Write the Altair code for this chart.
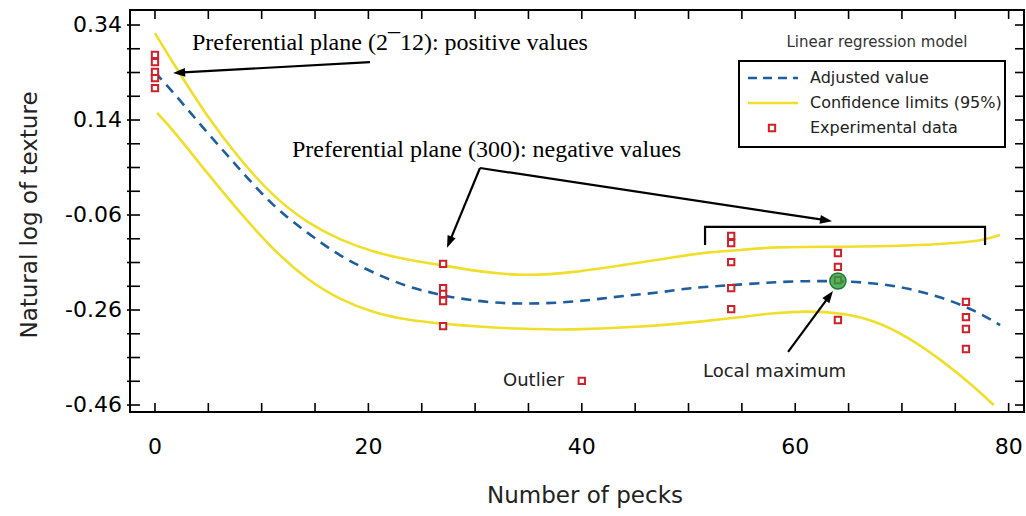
import math
import altair as alt
import pandas as pd

# ---------------- data ----------------
fit_x = [0.0, 1.7, 4.9, 8.0, 11.1, 14.3, 17.4, 20.5, 23.7, 26.8, 27.7, 31.5, 34.6, 37.8, 40.9,
         43.9, 47.1, 50.2, 53.3, 58.0, 61.2, 64.0, 67.4, 70.6, 73.7, 76.8, 79.2]
fit_y = [0.240, 0.199, 0.113, 0.035, -0.043, -0.098, -0.148, -0.182, -0.212, -0.228, -0.233,
         -0.245, -0.247, -0.245, -0.239, -0.230, -0.224, -0.213, -0.209, -0.201, -0.199, -0.199,
         -0.203, -0.214, -0.233, -0.260, -0.292]

upper_x = [0.0, 1.7, 4.9, 8.0, 11.1, 14.3, 17.4, 20.5, 23.7, 26.8, 29.9, 34.6, 39.3, 43.9, 48.6,
           51.8, 54.9, 58.0, 64.3, 70.6, 75.3, 77.7, 79.2]
upper_y = [0.323, 0.260, 0.146, 0.056, -0.022, -0.077, -0.113, -0.138, -0.155, -0.165, -0.178,
           -0.189, -0.181, -0.165, -0.149, -0.138, -0.134, -0.127, -0.127, -0.125, -0.119, -0.113,
           -0.102]

lower_x = [0.2, 1.7, 4.9, 8.0, 11.1, 14.3, 17.4, 20.5, 23.7, 26.8, 33.1, 39.3, 45.5, 51.8, 54.9,
           58.0, 61.2, 64.3, 67.4, 70.6, 73.7, 76.8, 78.6]
lower_y = [0.155, 0.119, 0.028, -0.056, -0.134, -0.197, -0.239, -0.266, -0.281, -0.289, -0.300,
           -0.302, -0.296, -0.283, -0.275, -0.266, -0.262, -0.266, -0.281, -0.317, -0.365, -0.422,
           -0.460]

exp_x = [0, 0, 0, 0, 0, 27, 27, 27, 27, 27, 54, 54, 54, 54, 54, 64, 64, 64, 64, 76, 76, 76, 76, 40]
exp_y = [0.277, 0.262, 0.241, 0.228, 0.207,
         -0.163, -0.214, -0.226, -0.241, -0.294,
         -0.104, -0.119, -0.159, -0.214, -0.258,
         -0.140, -0.169, -0.197, -0.281,
         -0.243, -0.275, -0.300, -0.342,
         -0.409]

max_x = [64]
max_y = [-0.199]

x_tick_values = list(range(0, 81, 5))
x_label_values = [0, 20, 40, 60, 80]
x_labels = ["0", "20", "40", "60", "80"]
y_label_values = [0.34, 0.14, -0.06, -0.26, -0.46]
y_labels = ["0.34", "0.14", "-0.06", "-0.26", "-0.46"]
y_tick_values = [round(-0.46 + 0.05 * i, 2) for i in range(17)]

# annotation arrows (data units): polylines, last point is the arrow tip
arrows = {
    "a1": [(20.15, 0.262), (1.7, 0.239)],
    "a2a": [(30.46, 0.039), (27.37, -0.129)],
    "a2b": [(30.46, 0.039), (63.45, -0.073)],
    "a3": [(59.33, -0.348), (63.54, -0.220)],
}
bracket = [(51.55, -0.123), (51.55, -0.085), (77.79, -0.085), (77.79, -0.123)]

# ---------------- styling ----------------
W, H = 894, 402
XD = [-2.34, 81.44]
YD = [-0.4747, 0.3716]
YEL = "#F0DF2A"
BLUE = "#1F5E9C"
RED = "#D0202A"
SANS = "DejaVu Sans"
SERIF = "Liberation Serif"

xs = alt.Scale(domain=XD, nice=False, zero=False)
ys = alt.Scale(domain=YD, nice=False, zero=False)
kx = W / (XD[1] - XD[0])
ky = H / (YD[1] - YD[0])

# ---------------- frames ----------------
fit_df = pd.DataFrame({"x": fit_x, "y": fit_y})
band_df = pd.concat([
    pd.DataFrame({"x": upper_x, "y": upper_y, "band": "upper"}),
    pd.DataFrame({"x": lower_x, "y": lower_y, "band": "lower"}),
])
exp_df = pd.DataFrame({"x": exp_x, "y": exp_y})
max_df = pd.DataFrame({"x": max_x, "y": max_y})

line_rows, head_rows = [], []
head_len = 12
for key, pts in arrows.items():
    (x0, y0), (x1, y1) = pts[-2], pts[-1]
    dx = (x1 - x0) * kx
    dy = -(y1 - y0) * ky
    L = math.hypot(dx, dy)
    ang = math.degrees(math.atan2(dx, -dy)) % 360
    head_rows.append({"x": x1, "y": y1, "ang": ang})
    sx = x1 - (dx / L) * (head_len - 2) / kx
    sy = y1 + (dy / L) * (head_len - 2) / ky
    new_pts = pts[:-1] + [(sx, sy)]
    for i, (px, py) in enumerate(new_pts):
        line_rows.append({"x": px, "y": py, "id": key, "o": i})
for i, (px, py) in enumerate(bracket):
    line_rows.append({"x": px, "y": py, "id": "bracket", "o": i})
arrow_df = pd.DataFrame(line_rows)
head_df = pd.DataFrame(head_rows)

one = pd.DataFrame({"a": [0]})

def X(field="x"):
    return alt.X(f"{field}:Q", scale=xs, axis=None)

def Y(field="y"):
    return alt.Y(f"{field}:Q", scale=ys, axis=None)

# ---------------- layers ----------------
fit_line = alt.Chart(fit_df).mark_line(
    color=BLUE, strokeWidth=2.6, strokeDash=[10, 7], interpolate="basis"
).encode(x=X(), y=Y())

band_lines = alt.Chart(band_df).mark_line(
    color=YEL, strokeWidth=2.6, interpolate="basis"
).encode(x=X(), y=Y(), detail="band:N")

exp_pts = alt.Chart(exp_df).mark_point(
    shape="square", size=40, filled=True, fill="white", stroke=RED, strokeWidth=2, opacity=1
).encode(x=X(), y=Y())

max_pt = alt.Chart(max_df).mark_circle(
    size=260, color="#2AA03A", fillOpacity=0.8, stroke="#1E7A30", strokeWidth=1.5
).encode(x=X(), y=Y())

arrow_lines = alt.Chart(arrow_df).mark_line(color="black", strokeWidth=2.2).encode(
    x=X(), y=Y(), detail="id:N", order="o:Q"
)

heads = alt.Chart(head_df).mark_point(
    shape="M0,0 L-0.36,1 L0.36,1 Z", size=(head_len * 2) ** 2, filled=True,
    color="black", opacity=1
).encode(x=X(), y=Y(), angle=alt.Angle("ang:Q", scale=None))

# tick marks on the frame (inside)
xt_df = pd.DataFrame({"v": x_tick_values})
yt_df = pd.DataFrame({"v": y_tick_values})

ticks_bottom = alt.Chart(xt_df).mark_rule(color="black", strokeWidth=1.6).encode(
    x=alt.X("v:Q", scale=xs, axis=None), y=alt.value(H), y2=alt.value(H - 9))
ticks_top = alt.Chart(xt_df).mark_rule(color="black", strokeWidth=1.6).encode(
    x=alt.X("v:Q", scale=xs, axis=None), y=alt.value(0), y2=alt.value(9))
ticks_left = alt.Chart(yt_df).mark_rule(color="black", strokeWidth=1.6).encode(
    y=alt.Y("v:Q", scale=ys, axis=None), x=alt.value(-3), x2=alt.value(10))
ticks_right = alt.Chart(yt_df).mark_rule(color="black", strokeWidth=1.6).encode(
    y=alt.Y("v:Q", scale=ys, axis=None), x=alt.value(W), x2=alt.value(W - 9))

# axis labels through the scales
xl_df = pd.DataFrame({"v": x_label_values, "t": x_labels})
yl_df = pd.DataFrame({"v": y_label_values, "t": y_labels})
x_lab = alt.Chart(xl_df).mark_text(
    font=SANS, fontSize=22, color="black", align="center", baseline="middle"
).encode(x=alt.X("v:Q", scale=xs, axis=None), y=alt.value(H + 35), text="t:N")
y_lab = alt.Chart(yl_df).mark_text(
    font=SANS, fontSize=22, color="black", align="right", baseline="middle"
).encode(y=alt.Y("v:Q", scale=ys, axis=None), x=alt.value(-8), text="t:N")

# annotation texts
def txt(s, px, py, font, size, align="left", baseline="alphabetic", color="black", angle=0):
    return alt.Chart(one).mark_text(
        text=s, font=font, fontSize=size, align=align, baseline=baseline, color=color,
        angle=angle
    ).encode(x=alt.value(px), y=alt.value(py))

x_title = txt("Number of pecks", 455, 486, SANS, 23, align="center", baseline="middle",
              color="#222222")
y_title = txt("Natural log of texture", -100, 205, SANS, 23, align="center",
              baseline="middle", color="#222222", angle=270)

t1 = txt("Preferential plane (2\u00af12): positive values", 62, 40, SERIF, 24)
t2 = txt("Preferential plane (300): negative values", 162, 147, SERIF, 24)
t3 = txt("Outlier", 373, 371, SANS, 18, baseline="middle", color="#222222")
t4 = txt("Local maximum", 573, 362, SANS, 18, baseline="middle", color="#222222")

# legend (drawn)
leg_box = alt.Chart(one).mark_rect(fill="white", stroke="black", strokeWidth=2).encode(
    x=alt.value(609), x2=alt.value(875), y=alt.value(51), y2=alt.value(137))
leg_title = txt("Linear regression model", 747, 32, SANS, 15, align="center",
                baseline="middle", color="#333333")
leg_l1 = alt.Chart(one).mark_rule(color=BLUE, strokeWidth=2.6, strokeDash=[9, 6]).encode(
    x=alt.value(618), x2=alt.value(668), y=alt.value(68))
leg_l2 = alt.Chart(one).mark_rule(color=YEL, strokeWidth=2.6).encode(
    x=alt.value(618), x2=alt.value(668), y=alt.value(93))
leg_sq = alt.Chart(one).mark_point(
    shape="square", size=40, filled=True, fill="white", stroke=RED, strokeWidth=2, opacity=1
).encode(x=alt.value(642), y=alt.value(118))
leg_t1 = txt("Adjusted value", 680, 68, SANS, 16, baseline="middle", color="#222222")
leg_t2 = txt("Confidence limits (95%)", 680, 93, SANS, 16, baseline="middle", color="#222222")
leg_t3 = txt("Experimental data", 680, 118, SANS, 16, baseline="middle", color="#222222")

chart = alt.layer(
    fit_line, band_lines, ticks_bottom, ticks_top, ticks_left, ticks_right,
    x_lab, y_lab, x_title, y_title,
    arrow_lines, heads, exp_pts, max_pt, t1, t2, t3, t4,
    leg_box, leg_title, leg_l1, leg_l2, leg_sq, leg_t1, leg_t2, leg_t3,
).properties(
    width=W, height=H,
    padding={"left": 130, "top": 10, "right": 2, "bottom": 104},
    autosize=alt.AutoSizeParams(type="none"),
    background="white",
).configure_view(stroke="black", strokeWidth=2)

chart.save("out.html", embed_options={"renderer": "svg", "actions": False})
